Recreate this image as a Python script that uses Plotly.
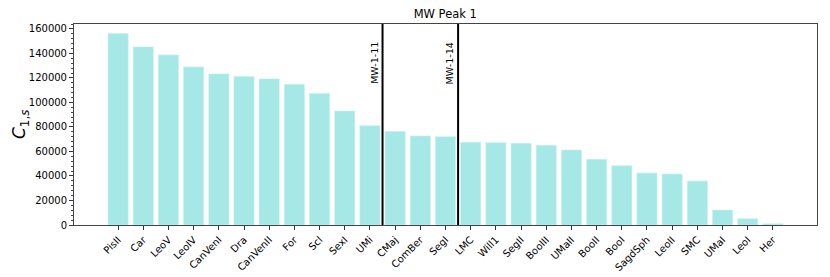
import plotly.graph_objects as go

categories = ["PisII", "Car", "LeoV", "LeoIV", "CanVenI", "Dra", "CanVenII", "For", "Scl",
              "SexI", "UMi", "CMaj", "ComBer", "SegI", "LMC", "Will1", "SegII", "BooIII",
              "UMaII", "BooII", "BooI", "SagdSph", "LeoII", "SMC", "UMaI", "LeoI", "Her"]
values = [156200, 145300, 138800, 129000, 123300, 121100, 119200, 114800, 107200,
          93000, 81000, 76200, 72700, 72100, 67500, 67200, 66700, 65000,
          61200, 53600, 48400, 42400, 41600, 35900, 12200, 5100, 1000]
marker_lines = [10.5, 13.5]
marker_labels = ["MW-1-11", "MW-1-14"]
y_ticks = [0, 20000, 40000, 60000, 80000, 100000, 120000, 140000, 160000]

fig = go.Figure()
fig.add_trace(go.Bar(
    x=list(range(len(categories))), y=values,
    marker=dict(color="#a6e8e5", line=dict(width=0.6, color="#c8f2ef")),
    width=0.8, showlegend=False, hoverinfo="skip",
))

for xv, lab in zip(marker_lines, marker_labels):
    fig.add_shape(type="line", x0=xv, x1=xv, y0=0, y1=1, xref="x", yref="paper",
                  line=dict(color="black", width=2))
    fig.add_annotation(x=xv - 0.05, y=0.92, xref="x", yref="paper", text=lab,
                       textangle=-90, showarrow=False, xanchor="right", yanchor="top",
                       font=dict(size=9.5, color="black"))

font = "DejaVu Sans, Liberation Sans, sans-serif"
fig.update_layout(
    width=830, height=277,
    margin=dict(l=73.5, r=12.5, t=24, b=52, autoexpand=False),
    paper_bgcolor="white", plot_bgcolor="white",
    font=dict(family=font, size=10, color="black"),
    title=dict(text="MW Peak 1", x=0.5365, xanchor="center", y=0.95, yanchor="middle",
               font=dict(size=11.5, color="black"), automargin=False),
    bargap=0.2,
)
fig.update_xaxes(
    range=[-1.75, 27.75], automargin=False,
    tickmode="array", tickvals=list(range(len(categories))), ticktext=categories,
    tickangle=-45, ticks="outside", ticklen=4, tickcolor="#333", tickfont=dict(size=10),
    showline=True, linecolor="#444", linewidth=1, mirror=True,
    showgrid=False, zeroline=False,
)
fig.update_yaxes(
    range=[0, 164000], automargin=False,
    tickmode="array", tickvals=y_ticks, ticktext=[str(v) for v in y_ticks],
    ticks="outside", ticklen=4, tickcolor="#333", tickfont=dict(size=10),
    minor=dict(ticks="outside", ticklen=2, dtick=4000, tickcolor="#444", showgrid=False),
    showline=True, linecolor="#444", linewidth=1, mirror=True,
    showgrid=False, zeroline=False,
)
fig.add_annotation(x=-0.072, y=0.5, xref="paper", yref="paper", showarrow=False,
                   text="<i>C</i><sub>1,<i>s</i></sub>", textangle=-90,
                   xanchor="center", yanchor="middle", font=dict(size=17, color="black"))

fig.write_html("out.html", config={"displayModeBar": False},
               post_script="document.body.style.margin='0';document.body.style.overflow='hidden';")
